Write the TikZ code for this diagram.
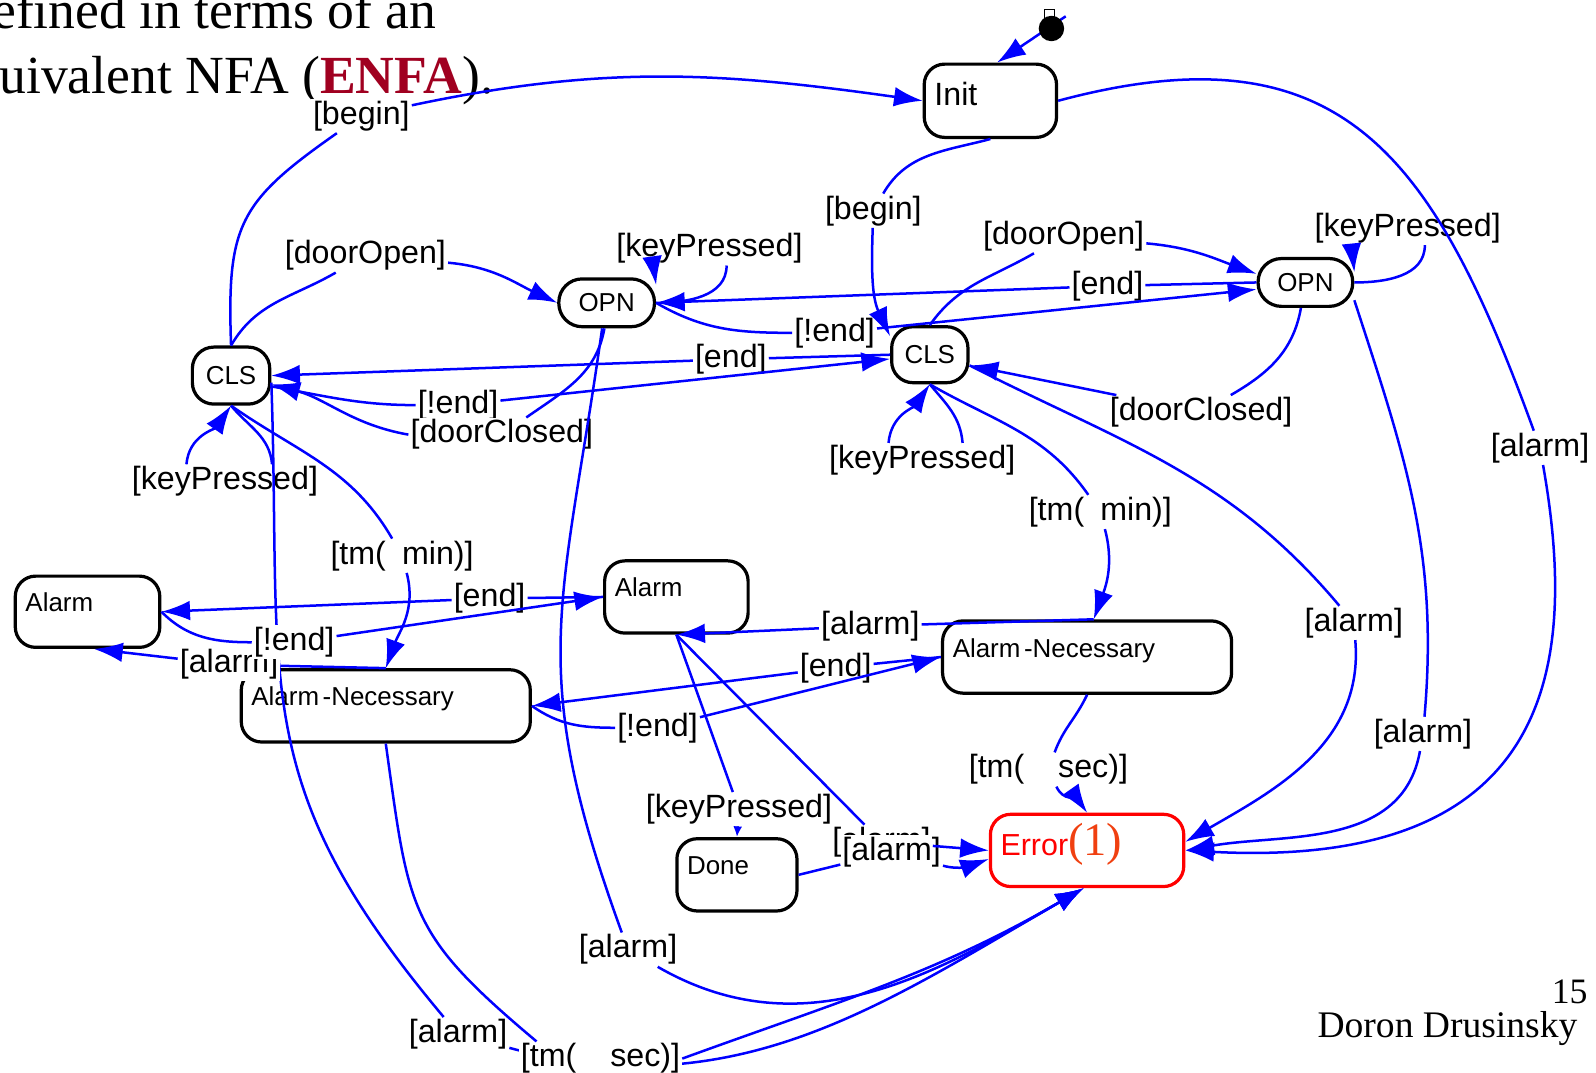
\documentclass[tikz,border=0pt]{standalone}
\usepackage{fontspec}
\setmainfont{Liberation Sans}
\newfontfamily\slidefont{Liberation Serif}
\usetikzlibrary{arrows.meta}

\definecolor{wireblue}{RGB}{0,0,255}
\definecolor{enfared}{RGB}{160,0,32}
\definecolor{errorange}{RGB}{240,64,16}

\tikzset{
  statebox/.style={draw, line width=1.8pt, rounded corners=0.4cm, align=left,
    inner xsep=0.2cm, inner ysep=0pt, text height=9pt, text depth=9pt,
    minimum height=1.42cm, font=\fontsize{14.5}{16}\selectfont},
  pillbox/.style={draw, line width=1.8pt, inner sep=0pt, font=\fontsize{14.5}{16}\selectfont},
  guard/.style={fill=white, inner sep=1pt, yshift=-0.06cm, font=\fontsize{18}{20}\selectfont},
  wire/.style={draw=wireblue, line width=1.4pt},
}

\begin{document}
\begin{tikzpicture}[x=0.02cm, y=0.02cm, >={Latex[length=16pt,width=11pt]}]

  \useasboundingbox (0,0) rectangle (1568,-1054);

  \node [anchor=base west, inner sep=0pt, font={\slidefont\fontsize{30}{36}\selectfont}] (headA) at (-8,-28) {efined in terms of an};
  \node [anchor=base west, inner sep=0pt, font={\slidefont\fontsize{30}{36}\selectfont}] (headB) at (-1,-92) {uivalent NFA ({\bfseries\color{enfared}ENFA}).};
  \node [anchor=base east, inner sep=0pt, font={\slidefont\fontsize{20}{24}\selectfont}] (pagenum) at (1560,-986) {15};
  \node [anchor=base east, inner sep=0pt, font={\slidefont\fontsize{21}{24}\selectfont}] (author) at (1550,-1019) {Doron Drusinsky};

  % states
  \node [statebox, text width=2.2cm, minimum height=1.44cm, text height=14pt, font=\fontsize{18}{20}\selectfont] (init) at (973,-99) {Init};
  \node [pillbox, rounded corners=0.42cm, minimum width=1.52cm, minimum height=1.12cm] (cls1) at (227,-369) {CLS};
  \node [pillbox, rounded corners=0.42cm, minimum width=1.5cm, minimum height=1.1cm] (cls2) at (913.5,-348.5) {CLS};
  \node [pillbox, rounded corners=0.46cm, minimum width=1.88cm, minimum height=0.94cm] (opn1) at (596,-297.5) {OPN};
  \node [pillbox, rounded corners=0.46cm, minimum width=1.86cm, minimum height=0.94cm] (opn2) at (1282.5,-277.5) {OPN};
  \node [statebox, text width=2.44cm, minimum height=1.4cm] (alarm1) at (86,-601) {Alarm};
  \node [statebox, text width=2.42cm] (alarm2) at (664.5,-586.5) {Alarm};
  \node [statebox, text width=5.28cm] (necA) at (379,-693.5) {Alarm\hspace{2pt}-Necessary};
  \node [statebox, text width=5.28cm] (necB) at (1068,-645.5) {Alarm\hspace{2pt}-Necessary};
  \node [statebox, text width=1.96cm] (done) at (724,-859.5) {Done};
  \node [statebox, draw=red, text=red, text width=3.4cm, text height=15pt, font=\fontsize{17}{20}\selectfont] (error) at (1068,-835.5) {Error{\slidefont\fontsize{26}{28}\selectfont\color{errorange}(1)}};

  \coordinate (starttail) at (1047,-16);
  \draw [wire,->] (starttail) -- (init.80);
  \node [draw, line width=0.6pt, inner sep=0pt, minimum width=0.2cm, minimum height=0.18cm] (startmark) at (1031,-14) {};
  \node [circle, fill=black, inner sep=0pt, minimum size=0.5cm] (startdot) at (1033,-28) {};

  % guards
  \node [guard] (lbBeginA) at (355,-111) {[begin]};
  \node [guard] (lbBeginB) at (858,-204) {[begin]};
  \node [guard] (lbAlarmInit) at (1513,-437) {[alarm]};
  \node [guard] (lbOpenA) at (359,-248) {[doorOpen]};
  \node [guard] (lbKeyOA) at (697,-241) {[keyPressed]};
  \node [guard] (lbNotEndO) at (820,-324) {[!end]};
  \node [guard] (lbEndO) at (1088,-278) {[end]};
  \node [guard] (lbOpenB) at (1045,-229) {[doorOpen]};
  \node [guard] (lbKeyOB) at (1383,-221) {[keyPressed]};
  \node [guard] (lbEndC) at (718,-350) {[end]};
  \node [guard] (lbNotEndC) at (450,-395) {[!end]};
  \node [guard] (lbClosedA) at (493,-424) {[doorClosed]};
  \node [guard] (lbClosedB) at (1180,-402) {[doorClosed]};
  \node [guard] (lbKeyCA) at (221,-470) {[keyPressed]};
  \node [guard] (lbKeyCB) at (906,-449) {[keyPressed]};
  \node [guard] (lbTmA) at (395,-543) {[tm(\hspace{9pt}min)]};
  \node [guard] (lbTmB) at (1081,-500) {[tm(\hspace{9pt}min)]};
  \node [guard] (lbAlarmC) at (1330,-609) {[alarm]};
  \node [guard] (lbAlarmO) at (1398,-718) {[alarm]};
  \node [guard] (lbEndAl) at (481,-585) {[end]};
  \node [guard] (lbAlarmNB) at (855,-612) {[alarm]};
  \node [guard] (lbEndN) at (821,-653) {[end]};
  \node [guard] (lbNotEndN) at (646,-712) {[!end]};
  \node [guard] (lbSecB) at (1030,-753) {[tm(\hspace{19pt}sec)]};
  \node [guard] (lbKeyAl) at (726,-792) {[keyPressed]};
  \node [guard] (lbAlarmAl) at (866,-824) {[alarm]};
  \node [guard] (lbAlarmDone) at (876,-834) {[alarm]};
  \node [guard] (lbAlarmOA) at (617,-930) {[alarm]};
  \node [guard] (lbAlarmCA) at (450,-1013) {[alarm]};

  % CLS (left) -> Error, partly hidden behind later guards
  \draw [wire] (cls1.-10) to[out=-88,in=130,looseness=1.2] (lbAlarmCA);
  \draw [wire,->] (lbAlarmCA) to[out=-15,in=-150] (error.-95);

  \node [guard] (lbAlarmNA) at (225,-650) {[alarm]};
  \node [guard] (lbNotEndAl) at (289,-628) {[!end]};
  \node [guard] (lbSecA) at (590,-1037) {[tm(\hspace{19pt}sec)]};

  % transitions
  \draw [wire,->] (cls1.north) to[out=92,in=-145,looseness=1.3] (lbBeginA) to[out=12,in=172] (init.west);
  \draw [wire,->] (init.south) to[out=-165,in=60] (lbBeginB) to[out=-92,in=115] (cls2.155);
  \draw [wire,->] (init.east) to[out=15,in=110,looseness=1.3] (lbAlarmInit) to[out=-80,in=-3,out distance=3.8cm,in distance=7.4cm] (error.east);

  \draw [wire,->] (cls1.north) to[out=60,in=-150] (lbOpenA) to[out=-5,in=155] (opn1.west);
  \draw [wire] (opn1.east) to[out=0,in=-90] (lbKeyOA.-45);
  \draw [wire,->] (lbKeyOA.-163) -- (opn1.20);
  \draw [wire,->] (opn1.east) to[out=-30,in=180] (lbNotEndO) -- (opn2.188);
  \draw [wire,->] (opn2.west) -- (lbEndO) -- (opn1.east);

  \draw [wire,->] (cls2.north) to[out=55,in=-150] (lbOpenB) to[out=-5,in=160] (opn2.170);
  \draw [wire] (opn2.east) to[out=0,in=-90] (lbKeyOB.-45);
  \draw [wire,->] (lbKeyOB.-163) -- (opn2.12);

  \draw [wire,->] (cls2.west) -- (lbEndC) -- (cls1.east);
  \draw [wire,->] (cls1.-15) to[out=-10,in=180] (lbNotEndC) -- (cls2.186);
  \draw [wire] (opn1.-95) to[out=-100,in=35] (lbClosedA);
  \draw [wire,->] (lbClosedA.west) to[out=170,in=-15] (cls1.-12);
  \draw [wire,->] (opn2.-100) to[out=-100,in=30] (lbClosedB) -- (cls2.-15);

  \draw [wire] (cls1.south) to[out=-50,in=95] (lbKeyCA.20);
  \draw [wire,->] (lbKeyCA.156) to[out=85,in=-125] (cls1.south);
  \draw [wire] (cls2.south) to[out=-50,in=95] (lbKeyCB.23);
  \draw [wire,->] (lbKeyCB.153) to[out=85,in=-125] (cls2.south);

  \draw [wire,->] (cls1.south) to[out=-35,in=120] (lbTmA) to[out=-75,in=70] (necA.north);
  \draw [wire,->] (cls2.south) to[out=-30,in=125] (lbTmB) to[out=-75,in=70] (necB.80);

  \draw [wire,->] (cls2.-15) to[out=-27,in=130] (lbAlarmC) to[out=-85,in=30] (error.5);
  \draw [wire,->] (opn2.-20) to[out=-72,in=85] (lbAlarmO) to[out=-100,in=10] (error.east);

  \draw [wire,->] (alarm2.west) -- (lbEndAl) -- (alarm1.east);
  \draw [wire,->] (alarm1.east) to[out=-45,in=180] (lbNotEndAl) -- (alarm2.west);
  \draw [wire,->] (necA.north) -- (lbAlarmNA) -- (alarm1.-80);
  \draw [wire,->] (necB.80) -- (lbAlarmNB) -- (alarm2.south);
  \draw [wire,->] (necB.west) -- (lbEndN) -- (necA.east);
  \draw [wire,->] (necA.east) to[out=-35,in=180] (lbNotEndN) -- (necB.west);

  \draw [wire,->] (necB.south) to[out=-115,in=70] (lbSecB) to[out=-65,in=125] (error.north);
  \draw [wire] (alarm2.south) -- (lbKeyAl);
  \draw [wire,-{Latex[length=6pt,width=5pt]}] (lbKeyAl) -- (done.north);
  \draw [wire,->] (alarm2.south) -- (lbAlarmAl) -- (error.west);
  \draw [wire,->] (done.east) -- (lbAlarmDone) to[out=-15,in=200] (error.185);

  \draw [wire,->] (opn1.-100) to[out=-98,in=110,looseness=1.2] (lbAlarmOA) to[out=-30,in=-150] (error.-95);
  \draw [wire] (necA.south) to[out=-82,in=140,looseness=1.3] (lbSecA.165);
  \draw [wire,->] (lbSecA.east) to[out=20,in=-150] (error.-95);

\end{tikzpicture}
\end{document}
